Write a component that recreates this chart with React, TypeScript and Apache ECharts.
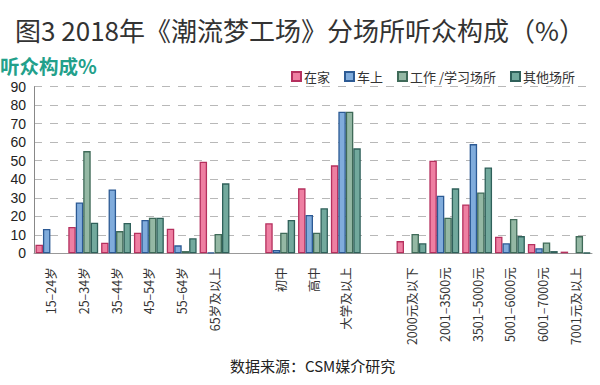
import React, { useEffect, useRef } from "react";
import * as echarts from "echarts";

const categories = [
  "15–24岁", "25–34岁", "35–44岁", "45–54岁", "55–64岁", "65岁及以上", "",
  "初中", "高中", "大学及以上", "",
  "2000元及以下", "2001–3500元", "3501–5000元", "5001–6000元", "6001–7000元", "7001元及以上",
];
const seriesNames = ["在家", "车上", "工作 /学习场所", "其他场所"];
const home = [4.6, 14.2, 5.7, 11.1, 13.3, 49.5, null, 16.2, 35.1, 47.5, null, 6.6, 50, 26.4, 9, 5, 0.9];
const car = [13.1, 27.5, 34.5, 18, 4.3, 0.4, null, 1.8, 20.7, 76.5, null, null, 31.1, 59, 5.4, 2.7, null];
const work = [null, 55.2, 12, 19.2, 1.2, 10.4, null, 11.1, 11.1, 76.5, null, 10.4, 19.2, 32.9, 18.5, 5.9, 9.3];
const other = [null, 16.5, 16.4, 19.2, 8.1, 37.8, null, 18, 24.3, 56.7, null, 5.4, 35.1, 46.4, 9.3, 1.2, 0.3];
const yTicks = { min: 0, max: 90, interval: 10 };

const fills = ["#ee7fa2", "#80acdc", "#94b8a4", "#72a99d"];
const borders = ["#b5305e", "#2c5a94", "#3f6a58", "#2f605a"];

export default function App() {
  const ref = useRef<HTMLDivElement>(null);
  useEffect(() => {
    const chart = echarts.init(ref.current!, null, { renderer: "svg" });
    const data = [home, car, work, other];
    chart.setOption({
      animation: false,
      backgroundColor: "#ffffff",
      textStyle: { fontFamily: "'Liberation Sans', 'Noto Sans CJK SC', sans-serif" },
      title: {
        text: "图3 2018年《潮流梦工场》分场所听众构成（%）",
        left: "center",
        top: 11,
        textStyle: { fontSize: 26, fontWeight: "normal", color: "#333", fontFamily: "'Noto Sans CJK SC', sans-serif" },
      },
      graphic: [
        {
          type: "text",
          left: 0,
          top: 55,
          style: { text: "听众构成%", fontSize: 19.5, lineHeight: 20, fontWeight: "bold", fill: "#22a08a", fontFamily: "'Noto Sans CJK SC', sans-serif" },
        },
        {
          type: "text",
          left: 230,
          top: 358,
          style: { text: "数据来源：CSM媒介研究", fontSize: 15, fill: "#222", fontFamily: "'Noto Sans CJK SC', sans-serif" },
        },
      ],
      legend: {
        right: 20,
        top: 65,
        itemWidth: 9,
        itemHeight: 9,
        itemGap: 14,
        icon: "rect",
        textStyle: { fontSize: 13, color: "#333", fontFamily: "'Noto Sans CJK SC', sans-serif", padding: [0, 0, 0, -2] },
        data: seriesNames,
      },
      grid: { left: 34, right: 8, top: 86.7, bottom: 131.7, containLabel: false },
      xAxis: {
        type: "category",
        data: categories,
        axisLine: { lineStyle: { color: "#999" } },
        axisTick: { show: false },
        axisLabel: { rotate: 90, fontSize: 12.5, color: "#333", margin: 14, interval: 0, fontFamily: "'Noto Sans CJK SC', sans-serif" },
      },
      yAxis: {
        type: "value",
        min: yTicks.min,
        max: yTicks.max,
        interval: yTicks.interval,
        axisLine: { show: true, lineStyle: { color: "#888" } },
        axisTick: { show: false },
        axisLabel: { fontSize: 14, color: "#222", margin: 8, lineHeight: 14 },
        splitLine: { lineStyle: { color: "#b8b8b8", type: [8, 8], width: 1.2 } },
      },
      series: seriesNames.map((name, i) => ({
        name,
        type: "bar",
        data: data[i],
        barGap: "0%",
        barCategoryGap: "9%",
        itemStyle: { color: fills[i], borderColor: borders[i], borderWidth: 1.3 },
      })),
    });
    return () => chart.dispose();
  }, []);
  return <div ref={ref} style={{ width: 600, height: 385, position: "absolute", left: 0, top: 0 }} />;
}
